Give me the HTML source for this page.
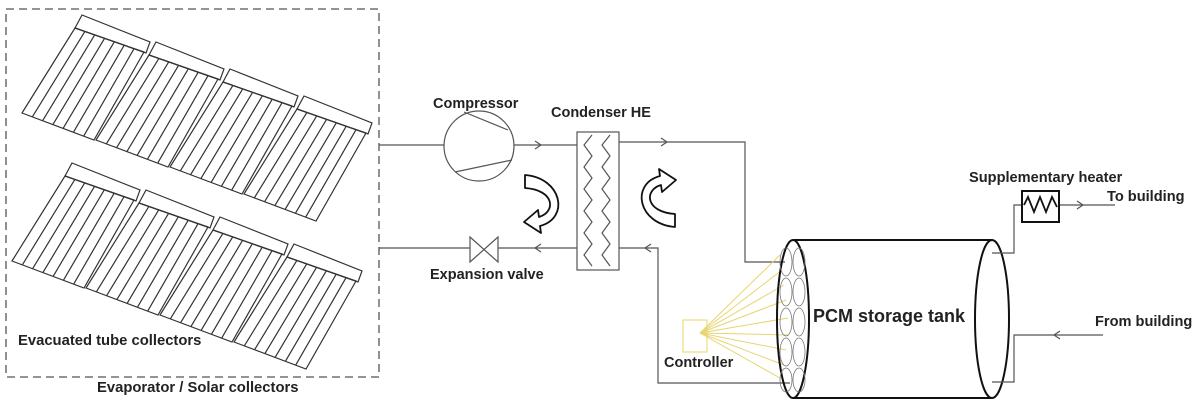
<!DOCTYPE html>
<html><head><meta charset="utf-8"><style>
html,body{margin:0;padding:0;background:#fff;}
svg{display:block;}
text{font-family:"Liberation Sans",Arial,sans-serif;font-weight:bold;fill:#222;}
</style></head><body>
<svg width="1200" height="405" viewBox="0 0 1200 405" xmlns="http://www.w3.org/2000/svg">
<defs>
<g id="panel" fill="none" stroke="#333" stroke-width="1.2">
  <polygon points="82,15 150,42 146,53 75,28"/>
  <polygon points="75,28 144,52 94,140 22,113"/>
  <line x1="84.9" y1="31.4" x2="32.3" y2="116.9"/>
  <line x1="94.7" y1="34.9" x2="42.6" y2="120.7"/>
  <line x1="104.6" y1="38.3" x2="52.9" y2="124.6"/>
  <line x1="114.4" y1="41.7" x2="63.1" y2="128.4"/>
  <line x1="124.3" y1="45.1" x2="73.4" y2="132.3"/>
  <line x1="134.1" y1="48.6" x2="83.7" y2="136.1"/>
</g>
<path id="carrow" d="M525,175 C562,178 570,218 540,226 L541,233 L524,222 L538,210 L539,217 C556,212 555,190 525,188 Z" fill="#fff" stroke="#111" stroke-width="1.8" stroke-linejoin="round"/>
</defs>
<rect x="6" y="9" width="373" height="368" fill="none" stroke="#555" stroke-width="1.3" stroke-dasharray="8,5"/>
<use href="#panel"/>
<use href="#panel" transform="translate(74,27)"/>
<use href="#panel" transform="translate(148,54)"/>
<use href="#panel" transform="translate(222,81)"/>
<g transform="translate(-10,148)">
<use href="#panel"/>
<use href="#panel" transform="translate(74,27)"/>
<use href="#panel" transform="translate(148,54)"/>
<use href="#panel" transform="translate(222,81)"/>
</g>
<text x="18" y="345" font-size="14.8">Evacuated tube collectors</text>
<text x="97" y="392" font-size="14.8">Evaporator / Solar collectors</text>

<g fill="none" stroke="#555" stroke-width="1.2">
<line x1="379" y1="145" x2="444" y2="145"/>
<line x1="514" y1="145" x2="577" y2="145"/>
<polyline points="535,141 541,145 535,149"/>
<circle cx="479" cy="146" r="35"/>
<line x1="464" y1="112" x2="508" y2="130"/>
<line x1="455" y1="172" x2="512" y2="160"/>
<rect x="577" y="132" width="42" height="138"/>
<polyline points="592,135 584,145 592,156 584,167 592,178 584,189 592,200 584,211 592,222 584,233 592,244 584,255 592,266"/>
<polyline points="610,135 602,145 610,156 602,167 610,178 602,189 610,200 602,211 610,222 602,233 610,244 602,255 610,266"/>
<polyline points="619,142 745,142 745,262 785,262"/>
<polyline points="661,138 667,142 661,146"/>
<line x1="379" y1="248" x2="470" y2="248"/>
<line x1="498" y1="248" x2="577" y2="248"/>
<polygon points="470,237 470,262 498,237 498,262"/>
<polyline points="541,244 535,248 541,252"/>
<polyline points="619,248 658,248 658,383 790,383"/>
<polyline points="651,244 645,248 651,252"/>
</g>
<text x="433" y="108" font-size="14.5">Compressor</text>
<text x="551" y="117" font-size="14.5">Condenser HE</text>
<text x="430" y="279" font-size="14.5">Expansion valve</text>
<use href="#carrow"/>
<use href="#carrow" transform="matrix(-1,0,0,-1,1200,402)"/>
<rect x="683" y="320" width="24" height="32" fill="none" stroke="#e8d66a" stroke-width="1"/>
<g stroke="#e8d470" stroke-width="1">
<line x1="700" y1="333" x2="780" y2="255"/><line x1="700" y1="333" x2="782" y2="270"/>
<line x1="700" y1="333" x2="784" y2="285"/><line x1="700" y1="333" x2="786" y2="300"/>
<line x1="700" y1="333" x2="788" y2="318"/><line x1="700" y1="333" x2="788" y2="335"/>
<line x1="700" y1="333" x2="786" y2="350"/><line x1="700" y1="333" x2="784" y2="365"/>
<line x1="700" y1="333" x2="780" y2="378"/>
</g>
<text x="664" y="367" font-size="14.5">Controller</text>
<g fill="none" stroke="#111" stroke-width="2">
<line x1="793" y1="240" x2="992" y2="240"/>
<line x1="793" y1="398" x2="992" y2="398"/>
<ellipse cx="793" cy="319" rx="16" ry="79"/>
<ellipse cx="992" cy="319" rx="17" ry="79"/>
</g>
<g fill="none" stroke="#777" stroke-width="0.8">
<ellipse cx="786" cy="262" rx="6" ry="14"/><ellipse cx="799" cy="262" rx="6" ry="14"/>
<ellipse cx="786" cy="292" rx="6" ry="14"/><ellipse cx="799" cy="292" rx="6" ry="14"/>
<ellipse cx="786" cy="322" rx="6" ry="14"/><ellipse cx="799" cy="322" rx="6" ry="14"/>
<ellipse cx="786" cy="352" rx="6" ry="14"/><ellipse cx="799" cy="352" rx="6" ry="14"/>
<ellipse cx="786" cy="380" rx="6" ry="12"/><ellipse cx="799" cy="380" rx="6" ry="12"/>
</g>
<text x="813" y="322" font-size="18">PCM storage tank</text>
<g fill="none" stroke="#555" stroke-width="1.2">
<polyline points="992,253 1014,253 1014,205 1022,205"/>
<line x1="1059" y1="205" x2="1115" y2="205"/>
<polyline points="1077,201 1083,205 1077,209"/>
<polyline points="992,382 1014,382 1014,335 1103,335"/>
<polyline points="1060,331 1054,335 1060,339"/>
</g>
<rect x="1022" y="191" width="37" height="31" fill="none" stroke="#111" stroke-width="2"/>
<polyline points="1024,205 1028,197 1034,212 1040,197 1046,212 1052,197 1057,207" fill="none" stroke="#111" stroke-width="1.8"/>
<text x="969" y="182" font-size="14.6">Supplementary heater</text>
<text x="1107" y="201" font-size="14.6">To building</text>
<text x="1095" y="326" font-size="14.6">From building</text>
</svg>
</body></html>
